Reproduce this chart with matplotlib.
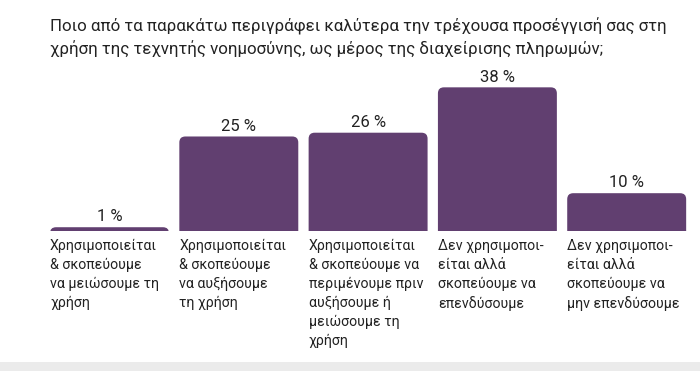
import matplotlib
matplotlib.use("Agg")
import matplotlib.pyplot as plt
from matplotlib.patches import FancyBboxPatch, Rectangle

plt.rcParams["font.family"] = ["Roboto", "DejaVu Sans"]

# Δεδομένα
title = ("Ποιο από τα παρακάτω περιγράφει καλύτερα την τρέχουσα προσέγγισή σας στη\n"
         "χρήση της τεχνητής νοημοσύνης, ως μέρος της διαχείρισης πληρωμών;")
categories = [
    "Χρησιμοποιείται\n& σκοπεύουμε\nνα μειώσουμε τη\nχρήση",
    "Χρησιμοποιείται\n& σκοπεύουμε\nνα αυξήσουμε\nτη χρήση",
    "Χρησιμοποιείται\n& σκοπεύουμε να\nπεριμένουμε πριν\nαυξήσουμε ή\nμειώσουμε τη\nχρήση",
    "Δεν χρησιμοποι-\nείται αλλά\nσκοπεύουμε να\nεπενδύσουμε",
    "Δεν χρησιμοποι-\nείται αλλά\nσκοπεύουμε να\nμην επενδύσουμε",
]
values = [1, 25, 26, 38, 10]

bar_color = "#613f70"
text_color = "#222222"

W, H = 700, 371
fig = plt.figure(figsize=(7, 3.71), dpi=100)
ax = fig.add_axes([0, 140 / H, 1, 231 / H])
ax.set_xlim(-0.847, 4.567)
ax.set_ylim(0, 61.1)
ax.axis("off")

width = 0.92
# pixels per data unit for rounding aspect
px_x = W / (4.567 + 0.847)
px_y = 231 / 61.1
aspect = px_x / px_y
r = 6 / px_x

for i, v in enumerate(values):
    below = 12 / px_y
    p = FancyBboxPatch((i - width / 2, -below), width, v + below,
                       boxstyle=f"round,pad=0,rounding_size={r}",
                       mutation_aspect=aspect, fc=bar_color, ec="none")
    ax.add_patch(p)
    ax.annotate(f"{v} %", xy=(i, v), xytext=(0, 2), textcoords="offset points",
                ha="center", va="bottom", fontsize=12, color=text_color)
    ax.annotate(categories[i], xy=(i - width / 2, 0), xytext=(0, -6),
                textcoords="offset points", ha="left", va="top",
                fontsize=10.2, color=text_color, linespacing=1.42,
                annotation_clip=False)

fig.text(50 / W, 1 - 18 / H, title, ha="left", va="top", fontsize=12.2,
         color=text_color, linespacing=1.35)

fig.patches.append(Rectangle((0, 0), 1, 9 / H, transform=fig.transFigure,
                             fc="#ebebeb", ec="none"))

fig.savefig("out.png", dpi=100)
